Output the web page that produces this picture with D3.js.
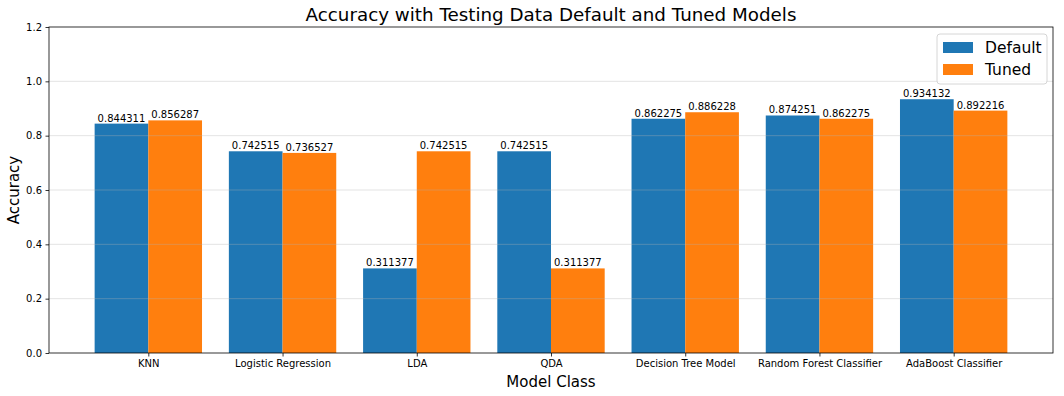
<!DOCTYPE html>
<html>
<head>
<meta charset="utf-8">
<script src="https://cdn.jsdelivr.net/npm/d3@7"></script>
<style>
  body { margin: 0; background: #fff; }
  text { font-family: "DejaVu Sans", sans-serif; fill: #000; }
</style>
</head>
<body>
<svg id="chart" width="1064" height="396"></svg>
<script>
'use strict'

const models = ['KNN', 'Logistic Regression', 'LDA', 'QDA', 'Decision Tree Model', 'Random Forest Classifier', 'AdaBoost Classifier']
const defaultAcc = [0.844311, 0.742515, 0.311377, 0.742515, 0.862275, 0.874251, 0.934132]
const tunedAcc = [0.856287, 0.736527, 0.742515, 0.311377, 0.886228, 0.862275, 0.892216]
const yTicks = [0.0, 0.2, 0.4, 0.6, 0.8, 1.0, 1.2]
const seriesNames = ['Default', 'Tuned']
const colours = ['#1f77b4', '#ff7f0e']

const svg = d3.select('#chart')
const m = { left: 49, right: 1053, top: 27, bottom: 353 }

const x = d3.scaleLinear().domain([-0.74, 6.74]).range([m.left, m.right])
const y = d3.scaleLinear().domain([0, 1.2]).range([m.bottom, m.top])
const bw = 0.4

const series = [defaultAcc, tunedAcc]

// bars + value labels
series.forEach((vals, s) => {
  const off = s === 0 ? -0.2 : 0.2
  svg.append('g').selectAll('rect')
    .data(vals)
    .enter().append('rect')
    .attr('x', (d, i) => x(i + off - bw / 2))
    .attr('width', x(bw) - x(0))
    .attr('y', d => y(d))
    .attr('height', d => y(0) - y(d))
    .attr('fill', colours[s])

  svg.append('g').selectAll('text')
    .data(vals)
    .enter().append('text')
    .attr('x', (d, i) => x(i + off))
    .attr('y', d => y(d) - 2)
    .attr('text-anchor', 'middle')
    .style('font-size', '10px')
    .text(d => d.toFixed(6))
})

// grid on top of bars
svg.append('g').selectAll('line')
  .data(yTicks.slice(1, -1))
  .enter().append('line')
  .attr('x1', m.left).attr('x2', m.right)
  .attr('y1', d => y(d)).attr('y2', d => y(d))
  .attr('stroke', '#b0b0b0')
  .attr('stroke-opacity', 0.45)
  .attr('stroke-width', 0.8)

// axes
const yAxis = d3.axisLeft(y).tickValues(yTicks).tickFormat(d3.format('.1f')).tickSize(3.5).tickPadding(3.5)
const gy = svg.append('g').attr('transform', `translate(${m.left},0)`).call(yAxis)
const xAxis = d3.axisBottom(x).tickValues(d3.range(models.length)).tickFormat(i => models[i]).tickSize(3.5).tickPadding(3.5)
const gx = svg.append('g').attr('transform', `translate(0,${m.bottom})`).call(xAxis)
;[gx, gy].forEach(g => {
  g.select('.domain').remove()
  g.selectAll('text').style('font-size', '10px').style('font-family', '"DejaVu Sans", sans-serif')
  g.selectAll('line').attr('stroke', '#000').attr('stroke-width', 0.8)
})

svg.append('rect')
  .attr('x', m.left).attr('y', m.top)
  .attr('width', m.right - m.left).attr('height', m.bottom - m.top)
  .attr('fill', 'none').attr('stroke', '#000').attr('stroke-width', 0.8)

// titles
svg.append('text').attr('x', (m.left + m.right) / 2).attr('y', 21)
  .attr('text-anchor', 'middle').style('font-size', '18.3px')
  .text('Accuracy with Testing Data Default and Tuned Models')
svg.append('text').attr('x', (m.left + m.right) / 2).attr('y', 387)
  .attr('text-anchor', 'middle').style('font-size', '15px')
  .text('Model Class')
svg.append('text').attr('transform', `translate(19,${(m.top + m.bottom) / 2}) rotate(-90)`)
  .attr('text-anchor', 'middle').style('font-size', '15px')
  .text('Accuracy')

// legend
const lg = svg.append('g').attr('transform', 'translate(937,34)')
lg.append('rect').attr('width', 110).attr('height', 50).attr('rx', 3)
  .attr('fill', '#fff').attr('fill-opacity', 0.8).attr('stroke', '#ccc').attr('stroke-width', 0.8)
seriesNames.forEach((n, i) => {
  lg.append('rect').attr('x', 6).attr('y', 8 + i * 22).attr('width', 30).attr('height', 11).attr('fill', colours[i])
  lg.append('text').attr('x', 48).attr('y', 19 + i * 22).style('font-size', '15.5px').text(n)
})
</script>
</body>
</html>
